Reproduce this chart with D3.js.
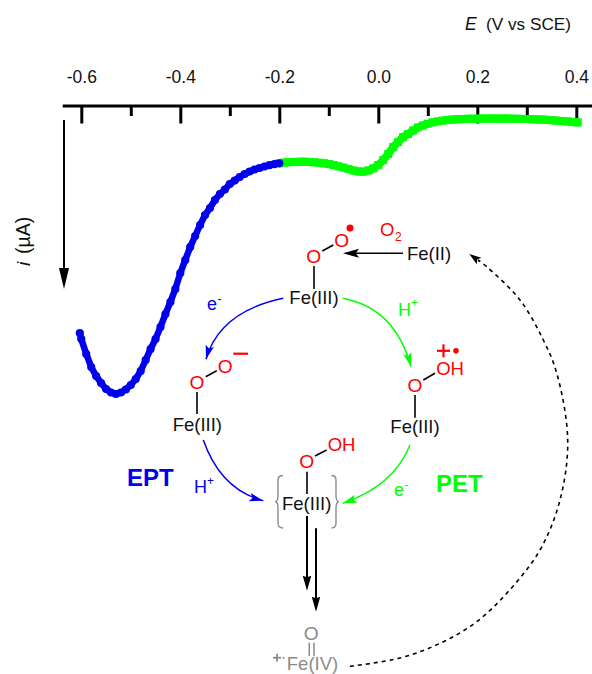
<!DOCTYPE html>
<html><head><meta charset="utf-8">
<script src="https://cdn.jsdelivr.net/npm/d3@7/dist/d3.min.js"></script>
<style>html,body{margin:0;padding:0;background:#fff}svg{display:block}text{font-family:"Liberation Sans",Arial,sans-serif}</style>
</head><body><div id="c"></div>
<script>
// potentials (V vs SCE) and currents (arbitrary uA-like units)
const eptPotential=[-0.603,-0.60,-0.59,-0.58,-0.57,-0.56,-0.55,-0.54,-0.53,-0.52,-0.51,-0.50,-0.49,-0.48,-0.47,-0.46,-0.45,-0.44,-0.43,-0.42,-0.41,-0.40,-0.39,-0.38,-0.37,-0.36,-0.35,-0.34,-0.33,-0.32,-0.31,-0.30,-0.29,-0.28,-0.27,-0.26,-0.25,-0.24,-0.23,-0.22,-0.21,-0.20];
const eptCurrent=[-21.8,-22.4,-23.9,-25.2,-26.1,-26.8,-27.4,-27.75,-27.9,-27.75,-27.45,-27.0,-26.4,-25.6,-24.5,-23.4,-22.4,-21.2,-19.9,-18.7,-17.4,-15.8,-14.5,-13.2,-12.1,-11.0,-10.0,-9.3,-8.5,-7.9,-7.45,-6.9,-6.55,-6.2,-5.9,-5.65,-5.45,-5.3,-5.15,-5.02,-4.92,-4.83];
const petPotential=[-0.20,-0.19,-0.18,-0.17,-0.16,-0.15,-0.14,-0.13,-0.12,-0.11,-0.10,-0.09,-0.08,-0.07,-0.06,-0.05,-0.04,-0.03,-0.02,-0.01,0.00,0.01,0.02,0.03,0.04,0.05,0.06,0.07,0.08,0.09,0.10,0.11,0.12,0.13,0.14,0.15,0.16,0.17,0.18,0.19,0.20,0.21,0.22,0.23,0.24,0.25,0.26,0.27,0.28,0.29,0.30,0.31,0.32,0.33,0.34,0.35,0.36,0.37,0.38,0.39,0.40,0.403];
const petCurrent=[-4.83,-4.76,-4.72,-4.7,-4.68,-4.67,-4.69,-4.72,-4.77,-4.82,-4.9,-5.0,-5.14,-5.26,-5.4,-5.55,-5.65,-5.67,-5.55,-5.33,-5.0,-4.5,-3.9,-3.2,-2.7,-2.2,-1.9,-1.55,-1.25,-1.05,-0.87,-0.73,-0.64,-0.56,-0.5,-0.45,-0.42,-0.4,-0.38,-0.37,-0.37,-0.36,-0.36,-0.36,-0.36,-0.36,-0.36,-0.37,-0.38,-0.39,-0.4,-0.42,-0.44,-0.46,-0.48,-0.52,-0.56,-0.6,-0.64,-0.68,-0.72,-0.75];
const majorTicks=[-0.6,-0.4,-0.2,0.0,0.2,0.4];
const majorLabels=["-0.6","-0.4","-0.2","0.0","0.2","0.4"];
const minorTicks=[-0.5,-0.3,-0.1,0.1,0.3];
const axisExtent=[-0.6375,0.432];

const W=592,H=674;
const svg=d3.select("#c").append("svg").attr("width",W).attr("height",H).attr("viewBox",`0 0 ${W} ${H}`);
const x=d3.scaleLinear().domain([-0.6,0.4]).range([81.3,576.3]);
const y=d3.scaleLinear().domain([0,-28]).range([115,395]);

// axis
const AY=106;
svg.append("line").attr("x1",x(axisExtent[0])).attr("x2",x(axisExtent[1])).attr("y1",AY).attr("y2",AY).attr("stroke","#000").attr("stroke-width",3);
const gMaj=svg.append("g").attr("transform",`translate(0,${AY})`).call(d3.axisBottom(x).tickValues(majorTicks).tickSize(17.5).tickFormat(""));
const gMin=svg.append("g").attr("transform",`translate(0,${AY})`).call(d3.axisBottom(x).tickValues(minorTicks).tickSize(10).tickFormat(""));
[gMaj,gMin].forEach(g=>{g.select(".domain").remove();g.selectAll("line").attr("stroke","#000").attr("stroke-width",3);});
const gLab=svg.append("g").attr("transform","translate(0,83)").call(d3.axisTop(x).tickValues(majorTicks).tickSize(0).tickPadding(0).tickFormat((d,i)=>majorLabels[i]));
gLab.select(".domain").remove();
gLab.selectAll("text").attr("font-size",17.5).attr("font-family",'"Liberation Sans",Arial,sans-serif').attr("fill","#111");

function txt(s,px,py,o={}){
  const t=svg.append("text").attr("x",px).attr("y",py).attr("font-size",o.size||17).attr("fill",o.fill||"#111").attr("text-anchor",o.anchor||"start");
  if(o.weight)t.attr("font-weight",o.weight);
  if(o.italic)t.attr("font-style","italic");
  if(o.rotate)t.attr("transform",`rotate(${o.rotate} ${px} ${py})`);
  t.text(s);return t;
}
function seg(a,b,c,d,col="#000",w=1.6){svg.append("line").attr("x1",a).attr("y1",b).attr("x2",c).attr("y2",d).attr("stroke",col).attr("stroke-width",w);}
function head(tx,ty,fx,fy,col="#000",len=14,wd=8.5,notch=0.2){
  const a=Math.atan2(ty-fy,tx-fx),c=Math.cos(a),s=Math.sin(a);
  const p=(l,o)=>[tx-l*c-o*s,ty-l*s+o*c];
  svg.append("path").attr("d",d3.line()([[tx,ty],p(len,wd/2),p(len*(1-notch),0),p(len,-wd/2)])+"Z").attr("fill",col);
}
function arc(a,b,cx,cy,c,d,col){
  svg.append("path").attr("d",`M${a},${b}Q${cx},${cy} ${c},${d}`).attr("fill","none").attr("stroke",col).attr("stroke-width",1.5);
  head(c,d,cx,cy,col,14,8.5);
}

// header and vertical axis
txt("E",465,30,{italic:true,size:17.5});
txt("(V vs SCE)",486,30,{size:17.2});
txt("i",29.5,266,{italic:true,size:19,rotate:-90});
txt("(µA)",29.5,254,{size:19.5,rotate:-90});
seg(64,120,64,272,"#000",2);
head(64,289,64,120,"#000",21,10,0);

// current trace
const blue="#0000ee",green="#00ff00",red="#ff0000",grey="#8a8a8a";
const petData=petPotential.map((v,i)=>[v,petCurrent[i]]);
const eptData=eptPotential.map((v,i)=>[v,eptCurrent[i]]);
const ln=d3.line().x(d=>x(d[0])).y(d=>y(d[1]));
svg.append("path").attr("d",ln(petData)).attr("fill","none").attr("stroke",green).attr("stroke-width",8);
svg.append("g").selectAll("rect").data(petData).join("rect").attr("x",d=>x(d[0])-4).attr("y",d=>y(d[1])-4).attr("width",8).attr("height",8).attr("fill",green);
svg.append("path").attr("d",ln(eptData)).attr("fill","none").attr("stroke",blue).attr("stroke-width",6.5);
svg.append("g").selectAll("circle").data(eptData).join("circle").attr("cx",d=>x(d[0])).attr("cy",d=>y(d[1])).attr("r",4.1).attr("fill",blue);

// top complex
const FS=18.5, FO=19.2;
txt("O",313.7,263,{fill:red,size:FO,anchor:"middle"});
txt("O",341.7,246.8,{fill:red,size:FO,anchor:"middle"});
seg(322.3,251,333.3,245);
seg(314,266,314,289);
svg.append("circle").attr("cx",350).attr("cy",228).attr("r",3.5).attr("fill",red);
txt("O",380,236,{fill:red,size:18.5});
txt("2",395,240.5,{fill:red,size:12});
txt("Fe(III)",314,304,{size:FS,anchor:"middle"});
txt("Fe(II)",429,260,{size:FS,anchor:"middle"});
seg(403,253.3,355,253.3);
head(343,253.3,403,253.3,"#000",16,9,0.2);

// left complex
txt("O",197,388.8,{fill:red,size:FO,anchor:"middle"});
txt("O",225.3,372.8,{fill:red,size:FO,anchor:"middle"});
seg(205.7,376.7,216.7,370.7);
seg(197,392,197,414);
seg(233.3,353.7,248,353.7,red,2.2);
txt("Fe(III)",197.3,430.7,{size:FS,anchor:"middle"});

// right complex
svg.append("rect").attr("x",437).attr("y",349.7).attr("width",13).attr("height",2.2).attr("fill",red);
svg.append("rect").attr("x",442.4).attr("y",344.3).attr("width",2.2).attr("height",13).attr("fill",red);
svg.append("circle").attr("cx",456).attr("cy",350.7).attr("r",2.8).attr("fill",red);
txt("OH",450,375,{fill:red,size:FS,anchor:"middle"});
txt("O",415,392.4,{fill:red,size:FO,anchor:"middle"});
seg(423.3,380,435,373.3);
seg(415,395,415,417.7);
txt("Fe(III)",415,433,{size:FS,anchor:"middle"});

// centre complex
txt("O",306.7,467.8,{fill:red,size:FO,anchor:"middle"});
txt("OH",341.5,451,{fill:red,size:FS,anchor:"middle"});
seg(315,456,326.7,450);
seg(307,471.7,307,494);
txt("Fe(III)",306.7,510,{size:FS,anchor:"middle"});
svg.append("path").attr("d","M283,475.5Q278,475.5 278,480V495Q278,501.5 275.3,501.7Q278,502 278,508V523Q278,528 283,528").attr("fill","none").attr("stroke",grey).attr("stroke-width",1.4);
svg.append("path").attr("d","M331.5,475.5Q336,475.5 336,480V495Q336,501.5 338.7,501.7Q336,502 336,508V523Q336,528 331.5,528").attr("fill","none").attr("stroke",grey).attr("stroke-width",1.4);

// cycle arrows
arc(283.3,298.3,219.5,311.5,206,359.3,blue);
arc(342.7,298.3,395,308,411,366.7,green);
arc(203.3,440,220.7,489.6,263.3,500.7,blue);
arc(410,445,393.6,486,342.7,503.3,green);
txt("e",207,310,{fill:blue,size:18});
txt("-",217.5,303,{fill:blue,size:12});
txt("H",398,316,{fill:green,size:18});
txt("+",411,307,{fill:green,size:12});
txt("H",194,492.7,{fill:blue,size:18});
txt("+",207,484.5,{fill:blue,size:12});
txt("e",394,496,{fill:green,size:18});
txt("-",404.5,489,{fill:green,size:12});
txt("EPT",127,485.7,{fill:blue,size:24,weight:"bold"});
txt("PET",436,491.7,{fill:green,size:24,weight:"bold"});

// descending arrows
seg(307,516,307,580,"#000",2);
head(307,590.7,307,516,"#000",15,8.5,0.1);
seg(316,528.3,316,600,"#000",2);
head(316,611.7,316,528.3,"#000",15,8.5,0.1);

// Fe(IV)
txt("O",311.3,640,{fill:grey,size:FO,anchor:"middle"});
seg(309.3,642.7,309.3,656,grey,1.5);
seg(314,642.7,314,656,grey,1.5);
txt("Fe(IV)",312.5,670,{fill:grey,size:FS,anchor:"middle"});
svg.append("rect").attr("x",273).attr("y",656.8).attr("width",8).attr("height",1.8).attr("fill",grey);
svg.append("rect").attr("x",276.1).attr("y",653.7).attr("width",1.8).attr("height",8).attr("fill",grey);
svg.append("circle").attr("cx",283.5).attr("cy",657.7).attr("r",1).attr("fill",grey);

// dashed return arc
const ret=[[350,666.3],[400,658],[440,643.3],[475,623],[506.7,593.3],[540,550],[560,500],[567.7,440],[556.7,373],[543.3,340],[520,300],[486.7,266.7],[478,260]];
svg.append("path").attr("d",d3.line().curve(d3.curveCatmullRom)(ret)).attr("fill","none").attr("stroke","#000").attr("stroke-width",1.6).attr("stroke-dasharray","4 4");
head(469.3,254,482,263,"#000",12,8,0.2);
</script></body></html>
